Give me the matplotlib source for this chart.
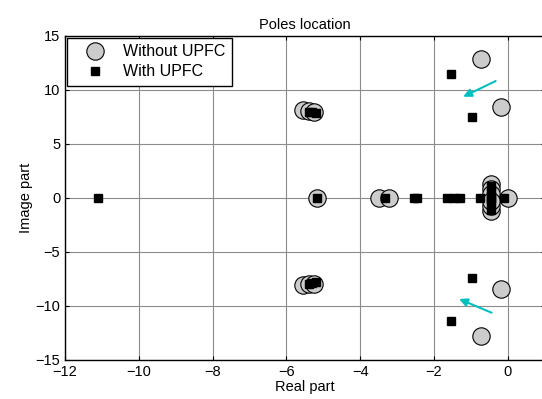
import numpy as np
import matplotlib.pyplot as plt

plt.rcParams['font.family'] = ['Liberation Sans', 'DejaVu Sans']

# poles without UPFC
re_wo = [-0.72, -0.19, -5.56, -5.40, -5.24, -5.18, -3.48, -3.21,
         -0.45, -0.45, -0.45, 0.0,
         -0.72, -0.19, -5.56, -5.40, -5.24, -0.45, -0.45, -0.45]
im_wo = [12.8, 8.43, 8.1, 8.0, 7.95, 0.0, 0.0, 0.0,
         1.25, 0.8, 0.35, 0.0,
         -12.8, -8.43, -8.1, -8.0, -7.95, -1.25, -0.8, -0.35]

# poles with UPFC
re_w = [-1.53, -0.97, -5.40, -5.30, -5.20, -11.1, -5.18, -3.34,
        -2.55, -2.45, -1.64, -1.47, -1.29, -0.76, -0.45, -0.1,
        -0.45, -0.45, -0.45, -1.53, -0.97, -5.40, -5.30, -5.20,
        -0.45, -0.45, -0.45]
im_w = [11.45, 7.47, 7.95, 7.9, 7.85, 0.0, 0.0, 0.0,
        0.0, 0.0, 0.0, 0.0, 0.0, 0.0, 0.0, 0.0,
        1.1, 0.6, 0.2, -11.45, -7.47, -7.95, -7.9, -7.85,
        -1.1, -0.6, -0.2]

# arrows (start -> end)
arr_x0 = [-0.33, -0.44]
arr_y0 = [10.8, -10.65]
arr_x1 = [-1.21, -1.32]
arr_y1 = [9.35, -9.38]

fig = plt.figure(figsize=(5.42, 3.99), dpi=100)
ax = fig.add_axes([0.12, 0.0985, 0.885, 0.812])

ax.plot(re_wo, im_wo, 'o', ms=12.5, mfc=(0.8, 0.8, 0.8), mec='k', mew=0.8,
        label='Without UPFC', zorder=3)
ax.plot(re_w, im_w, 's', ms=5.8, mfc='k', mec='k', label='With UPFC', zorder=4)

for x0, y0, x1, y1 in zip(arr_x0, arr_y0, arr_x1, arr_y1):
    ax.annotate('', xy=(x1, y1), xytext=(x0, y0),
                arrowprops=dict(arrowstyle='-|>', color=(0.0, 0.75, 0.75),
                                lw=1.5, mutation_scale=12,
                                shrinkA=0, shrinkB=0), zorder=5)

ax.set_xlim(-12, 1)
ax.set_ylim(-15, 15)
ax.set_xticks(np.arange(-12, 1, 2))
ax.set_yticks(np.arange(-15, 16, 5))
ax.tick_params(direction='in', top=True, right=True, labelsize=10.5, length=3)
ax.grid(True, color=(0.55, 0.55, 0.55), lw=0.8)
ax.set_axisbelow(True)
for s in ax.spines.values():
    s.set_linewidth(1.0)

ax.set_title('Poles location', fontsize=10.5, pad=5)
ax.set_xlabel('Real part', fontsize=10.5, labelpad=1)
ax.set_ylabel('Image part', fontsize=10.5, labelpad=2)

leg = ax.legend(loc='upper left', fontsize=11.5, fancybox=False,
                edgecolor='k', framealpha=1, borderaxespad=0.15,
                handlelength=2.6, handletextpad=0.5, borderpad=0.4,
                labelspacing=0.3)
leg.get_frame().set_linewidth(1.0)

plt.savefig('out.png', dpi=100)
